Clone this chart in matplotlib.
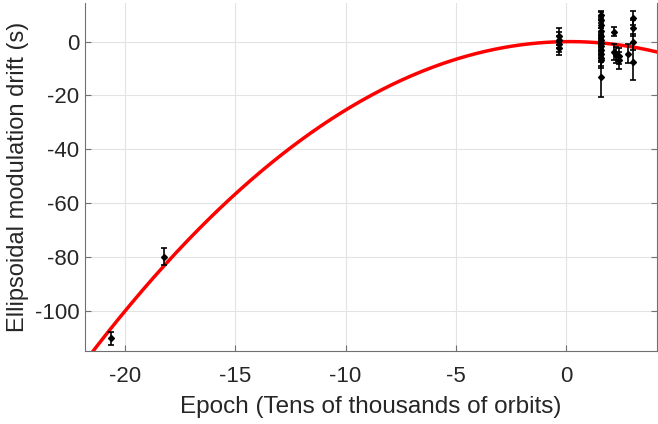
import numpy as np
import matplotlib
matplotlib.use("Agg")
import matplotlib.pyplot as plt

# ----------------------------------------------------------------------
# Measured drift (read off the reference figure)
# ----------------------------------------------------------------------
epoch = [-20.6, -18.2,
         -0.35, -0.35, -0.35, -0.35,
         1.57, 1.57, 1.57, 1.57, 1.57, 1.57, 1.57, 1.57, 1.57, 1.57, 1.57, 1.57, 1.57,
         2.17, 2.17, 2.25, 2.4, 2.4,
         2.8, 3.0, 3.0, 3.0, 3.0]
drift = [-110.3, -79.9,
         2.0, 0.5, -1.0, -2.5,
         9.9, 8.0, 6.0, 4.0, 2.0, 0.5, -0.5, -1.5, -3.0, -4.5, -6.0, -6.8, -13.0,
         3.7, -3.8, -5.0, -5.5, -7.0,
         -4.5, 8.7, 5.0, 0.0, -7.4]
drift_err = [2.4, 3.1,
             3.2, 3.0, 3.0, 2.5,
             1.5, 3.0, 3.0, 3.0, 3.0, 3.0, 3.0, 3.0, 3.0, 3.0, 3.0, 3.0, 7.5,
             1.8, 3.0, 3.0, 3.0, 3.0,
             3.5, 2.5, 3.0, 3.0, 7.0]

# quadratic fit coefficients (highest power first)
fit_coeffs = [-0.247, 0.0741, -0.0056]
fit_range = [-21.8, 4.1]

xticks = [-20, -15, -10, -5, 0]
yticks = [0, -20, -40, -60, -80, -100]

# ----------------------------------------------------------------------
# Plot
# ----------------------------------------------------------------------
plt.rcParams["font.family"] = ["Liberation Sans", "DejaVu Sans"]
plt.rcParams["axes.unicode_minus"] = False

fig = plt.figure(figsize=(6.58, 4.24), dpi=100)
ax = fig.add_axes([0.129, 0.172, 0.8695, 0.82])

xfit = np.linspace(fit_range[0], fit_range[1], 400)
ax.plot(xfit, np.polyval(fit_coeffs, xfit), color="red", lw=2.5, zorder=2)

ax.errorbar(epoch, drift, yerr=drift_err, fmt="D", color="black",
            ms=3, elinewidth=1.2, capsize=2.5, capthick=1.2, zorder=3)

ax.set_xlim(-21.8, 4.1)
ax.set_ylim(-115, 14.2)
ax.set_xticks(xticks)
ax.set_yticks(yticks)

ax.grid(True, color="#e3e3e3", lw=0.8)
ax.set_axisbelow(True)

ax.spines["top"].set_visible(False)
for side in ["left", "bottom", "right"]:
    ax.spines[side].set_color("#707070")
    ax.spines[side].set_linewidth(0.8)

ax.tick_params(direction="in", length=4, width=0.8, color="#707070",
               labelsize=16, labelcolor="#262626", right=True)
ax.tick_params(axis="x", pad=11)
ax.tick_params(axis="y", pad=4)

ax.set_xlabel("Epoch (Tens of thousands of orbits)", fontsize=17.5,
              color="#262626", labelpad=6)
ax.set_ylabel("Ellipsoidal modulation drift (s)", fontsize=17,
              color="#262626", labelpad=4)

fig.savefig("out.png", dpi=100)
